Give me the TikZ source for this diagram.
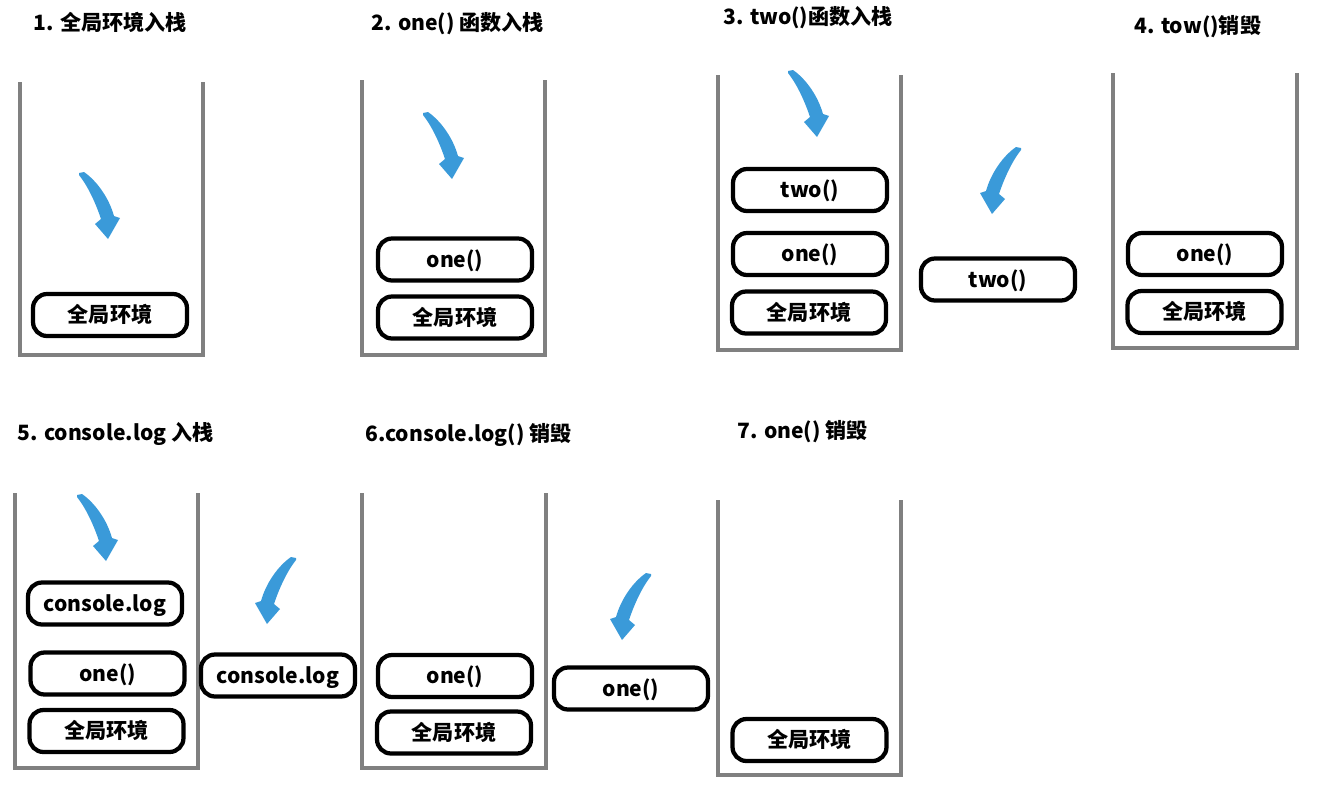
\documentclass[tikz,border=0pt]{standalone}
\usepackage{fontspec}
\setmainfont{Noto Sans CJK SC}
\usetikzlibrary{positioning}
\definecolor{wallgray}{HTML}{808080}
\definecolor{arrowblue}{HTML}{3A9AD9}
\tikzset{%
  stackwall/.style={draw=wallgray, line width=0.08cm, line join=miter},
  framebox/.style={draw=black, line width=0.085cm, rounded corners=0.28cm,
    minimum width=3.08cm, minimum height=0.84cm, inner sep=0pt,
    text height=1em, text depth=0.1em,
    font=\fontsize{12}{14}\selectfont\bfseries},
  steptitle/.style={anchor=west, inner sep=0pt, font=\fontsize{12}{14}\selectfont\bfseries},
  pusharrow/.pic={
    \fill[arrowblue] (0,0) -- (5,-1) .. controls (18,8) and (30,25) .. (35,43)
      -- (41,45) -- (29,66) -- (16,51) -- (22,46)
      .. controls (16,28) and (8,12) .. (0,2) -- cycle;
  }
}

\begin{document}
\begin{tikzpicture}[x=0.02cm, y=-0.02cm]
  \useasboundingbox (0,0) rectangle (1317,788);
  % stacks
  \foreach \l/\r/\t/\b in {20/203/82/355, 362/545/80/355, 718/901/75/350,
      1113/1297/73/348, 15/198/493/768, 362/546/493/768, 718/901/500/775}
    \draw[stackwall] (\l,\t) |- (\r,\b) -- (\r,\t);

  % titles
  \node[steptitle] (t1) at (33,22) {1. 全局环境入栈};
  \node[steptitle] (t2) at (371,24) {2. one() 函数入栈};
  \node[steptitle] (t3) at (723,18) {3. two()函数入栈};
  \node[steptitle] (t4) at (1134,27) {4. tow()销毁};
  \node[steptitle] (t5) at (17,434) {5. console.log 入栈};
  \node[steptitle] (t6) at (365,435) {6.console.log() 销毁};
  \node[steptitle] (t7) at (737,432) {7. one() 销毁};

  % step 1
  \node[framebox] (g1) at (110,315) {全局环境};
  \pic at (79,173) {pusharrow};
  % step 2
  \node[framebox] (o2) at (455,259.5) {one()};
  \node[framebox] (g2) at (455,317.5) {全局环境};
  \pic at (423,113) {pusharrow};
  % step 3
  \node[framebox] (w3) at (810,190) {two()};
  \node[framebox] (o3) at (810,254) {one()};
  \node[framebox] (g3) at (809,312.5) {全局环境};
  \node[framebox] (w3out) at (998,279.5) {two()};
  \pic at (788,71) {pusharrow};
  \pic[xscale=-1] at (1021,148) {pusharrow};
  % step 4
  \node[framebox] (o4) at (1205,254) {one()};
  \node[framebox] (g4) at (1204.5,312) {全局环境};
  % step 5
  \node[framebox] (c5) at (105,603.5) {console.log};
  \node[framebox] (o5) at (107.5,673.5) {one()};
  \node[framebox] (g5) at (106.5,731) {全局环境};
  \node[framebox] (c5out) at (278,675.5) {console.log};
  \pic at (77,495) {pusharrow};
  \pic[xscale=-1] at (296,558) {pusharrow};
  % step 6
  \node[framebox] (o6) at (455,676) {one()};
  \node[framebox] (g6) at (454,732.5) {全局环境};
  \node[framebox] (o6out) at (631,688.5) {one()};
  \pic[xscale=-1] at (651,574) {pusharrow};
  % step 7
  \node[framebox] (g7) at (809.5,740) {全局环境};
\end{tikzpicture}
\end{document}
